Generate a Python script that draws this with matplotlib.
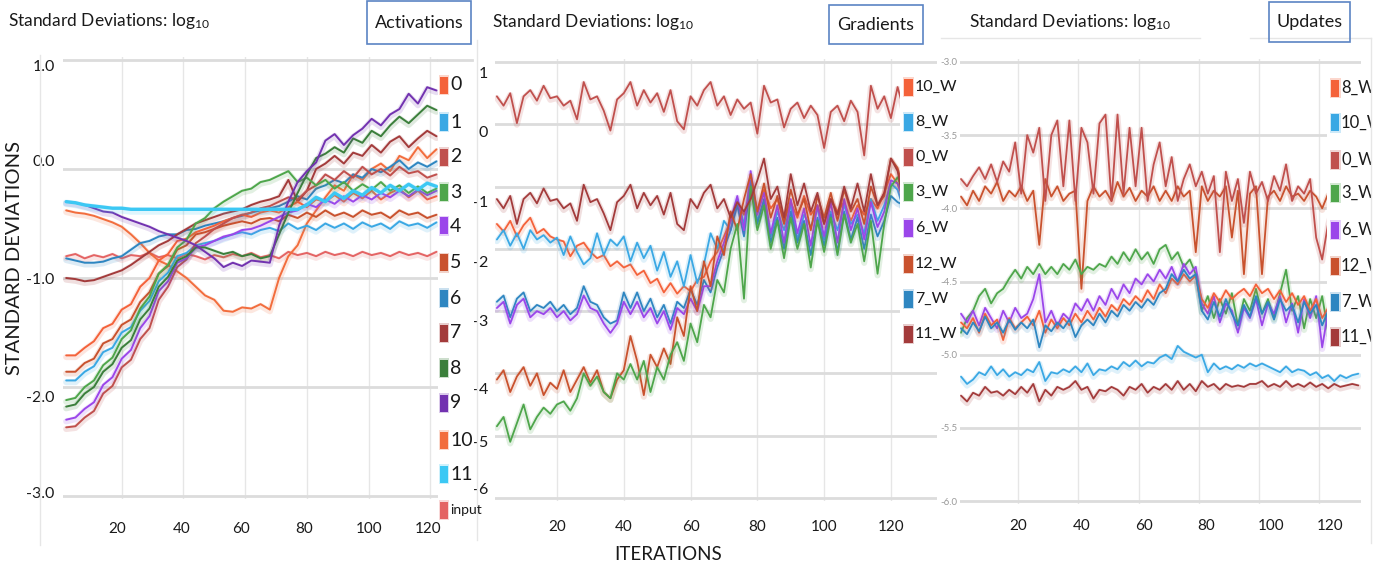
import matplotlib
matplotlib.use("Agg")
import matplotlib.pyplot as plt
import matplotlib.patheffects as pe
import matplotlib.transforms as mtransforms
from matplotlib.patches import Rectangle
from matplotlib.lines import Line2D

plt.rcParams['font.family'] = ['Lato', 'DejaVu Sans']
plt.rcParams['mathtext.fontset'] = 'custom'
plt.rcParams['mathtext.rm'] = 'Lato'
plt.rcParams['mathtext.it'] = 'Lato:italic'
plt.rcParams['mathtext.bf'] = 'Lato:bold'

# ---------------- data : Activations ----------------
act_iters = list(range(2, 123, 3))
act_labels = ['0', '1', '2', '3', '4', '5', '6', '7', '8', '9', '10', '11', 'input']
act_0 = [-1.71,-1.71,-1.64,-1.58,-1.46,-1.42,-1.29,-1.24,-1.08,-1.00,-0.84,-0.78,-0.66,-0.64,-0.58,-0.55,-0.52,-0.48,-0.45,-0.42,-0.44,-0.40,-0.38,-0.40,-0.35,-0.30,-0.35,-0.28,-0.30,-0.24,-0.30,-0.22,-0.27,-0.20,-0.28,-0.22,-0.18,-0.26,-0.20,-0.28,-0.25]
act_1 = [-1.94,-1.94,-1.86,-1.81,-1.68,-1.64,-1.50,-1.45,-1.30,-1.21,-1.03,-0.95,-0.80,-0.77,-0.70,-0.68,-0.66,-0.63,-0.60,-0.58,-0.60,-0.56,-0.54,-0.57,-0.50,-0.55,-0.52,-0.56,-0.50,-0.54,-0.50,-0.55,-0.49,-0.53,-0.50,-0.55,-0.48,-0.52,-0.50,-0.54,-0.49]
act_2 = [-2.37,-2.36,-2.28,-2.22,-2.06,-1.99,-1.82,-1.75,-1.56,-1.46,-1.20,-1.08,-0.90,-0.83,-0.68,-0.62,-0.55,-0.50,-0.45,-0.42,-0.40,-0.36,-0.34,-0.30,-0.26,-0.28,-0.20,-0.15,-0.05,-0.10,-0.02,-0.08,0.02,-0.05,0.00,-0.06,0.02,-0.04,-0.02,-0.08,-0.05]
act_3 = [-2.12,-2.10,-2.00,-1.94,-1.80,-1.73,-1.56,-1.48,-1.28,-1.17,-0.96,-0.88,-0.72,-0.65,-0.50,-0.45,-0.36,-0.30,-0.25,-0.20,-0.18,-0.12,-0.10,-0.06,-0.02,-0.12,-0.08,-0.15,-0.10,-0.18,-0.12,-0.20,-0.14,-0.19,-0.12,-0.20,-0.15,-0.22,-0.16,-0.22,-0.18]
act_4 = [-2.30,-2.28,-2.20,-2.14,-1.98,-1.91,-1.74,-1.66,-1.46,-1.35,-1.12,-1.03,-0.86,-0.82,-0.72,-0.70,-0.66,-0.62,-0.60,-0.56,-0.55,-0.52,-0.48,-0.44,-0.40,-0.38,-0.32,-0.35,-0.28,-0.32,-0.25,-0.30,-0.24,-0.28,-0.22,-0.26,-0.20,-0.25,-0.19,-0.24,-0.20]
act_5 = [-1.86,-1.86,-1.78,-1.74,-1.60,-1.56,-1.43,-1.38,-1.22,-1.13,-0.96,-0.89,-0.74,-0.70,-0.60,-0.58,-0.55,-0.52,-0.50,-0.48,-0.50,-0.46,-0.45,-0.48,-0.42,-0.45,-0.40,-0.44,-0.38,-0.43,-0.40,-0.44,-0.38,-0.42,-0.40,-0.45,-0.38,-0.42,-0.40,-0.45,-0.42]
act_6 = [-0.82,-0.84,-0.86,-0.86,-0.85,-0.82,-0.80,-0.74,-0.68,-0.66,-0.62,-0.60,-0.60,-0.56,-0.55,-0.52,-0.50,-0.48,-0.45,-0.43,-0.40,-0.38,-0.36,-0.34,-0.30,-0.25,-0.28,-0.18,-0.15,-0.10,-0.13,-0.05,-0.08,0.00,-0.03,0.02,0.08,0.00,0.06,0.02,0.07]
act_7 = [-1.00,-1.01,-1.03,-1.02,-0.99,-0.96,-0.93,-0.88,-0.82,-0.76,-0.70,-0.66,-0.60,-0.55,-0.50,-0.47,-0.44,-0.41,-0.39,-0.37,-0.33,-0.30,-0.28,-0.25,-0.10,-0.30,-0.20,0.00,0.05,0.12,0.05,0.15,0.12,0.22,0.15,0.25,0.30,0.20,0.28,0.35,0.30]
act_8 = [-2.18,-2.16,-2.06,-2.00,-1.86,-1.79,-1.64,-1.57,-1.38,-1.28,-1.08,-0.99,-0.84,-0.80,-0.72,-0.72,-0.75,-0.78,-0.76,-0.80,-0.78,-0.82,-0.80,-0.60,-0.40,-0.22,-0.05,0.10,0.14,0.20,0.15,0.28,0.24,0.35,0.30,0.40,0.48,0.42,0.50,0.58,0.54]
act_9 = [-0.30,-0.31,-0.33,-0.36,-0.39,-0.40,-0.44,-0.47,-0.50,-0.53,-0.57,-0.60,-0.63,-0.66,-0.70,-0.76,-0.82,-0.90,-0.86,-0.89,-0.84,-0.85,-0.86,-0.52,-0.30,-0.12,-0.02,0.06,0.26,0.32,0.22,0.31,0.37,0.46,0.40,0.50,0.55,0.69,0.60,0.75,0.72]
act_10 = [-0.38,-0.40,-0.41,-0.43,-0.46,-0.49,-0.53,-0.60,-0.68,-0.77,-0.84,-0.88,-0.94,-1.00,-1.08,-1.16,-1.20,-1.30,-1.31,-1.27,-1.28,-1.24,-1.29,-1.00,-0.80,-0.70,-0.50,-0.38,-0.26,-0.15,-0.20,-0.05,-0.10,0.00,0.05,-0.02,0.12,0.08,0.20,0.10,0.18]
act_11 = [-0.30,-0.31,-0.33,-0.34,-0.35,-0.36,-0.36,-0.37,-0.37,-0.37,-0.37,-0.37,-0.37,-0.37,-0.37,-0.37,-0.37,-0.37,-0.37,-0.37,-0.37,-0.37,-0.37,-0.37,-0.37,-0.37,-0.33,-0.26,-0.30,-0.22,-0.27,-0.20,-0.24,-0.17,-0.22,-0.15,-0.20,-0.14,-0.19,-0.13,-0.16]
act_input = [-0.80,-0.78,-0.82,-0.79,-0.81,-0.78,-0.82,-0.79,-0.80,-0.77,-0.81,-0.79,-0.82,-0.78,-0.80,-0.83,-0.79,-0.81,-0.78,-0.80,-0.77,-0.81,-0.79,-0.82,-0.76,-0.79,-0.77,-0.80,-0.76,-0.79,-0.77,-0.80,-0.76,-0.79,-0.77,-0.80,-0.76,-0.79,-0.77,-0.80,-0.76]

# ---------------- data : Gradients ----------------
grad_iters = list(range(2, 125, 2))
grad_labels = ['10_W', '8_W', '0_W', '3_W', '6_W', '12_W', '7_W', '11_W']
grad_0W = [0.45,0.30,0.50,0.02,0.45,0.55,0.38,0.62,0.42,0.45,
           0.30,0.38,0.08,0.68,0.40,0.45,0.22,-0.10,0.40,0.50,
           0.68,0.30,0.55,0.35,0.50,0.20,0.55,0.05,-0.08,0.45,
           0.30,0.55,0.68,0.30,0.45,0.15,0.40,0.25,0.35,-0.15,
           0.62,0.35,0.40,-0.05,0.25,0.35,0.10,0.30,0.15,-0.38,
           0.20,0.30,0.05,0.38,0.20,-0.50,0.62,0.25,0.45,0.10,
           0.60,0.20]
grad_11W = [-1.20,-1.35,-1.15,-1.60,-1.20,-1.10,-1.27,-1.03,-1.23,-1.20,
            -1.35,-1.27,-1.55,-0.97,-1.25,-1.20,-1.43,-1.70,-1.25,-1.15,
            -0.97,-1.35,-1.10,-1.30,-1.15,-1.45,-1.10,-1.60,-1.70,-1.20,
            -1.35,-1.10,-0.97,-1.35,-1.20,-1.50,-1.25,-1.40,-1.20,-0.90,
            -0.55,-1.20,-1.00,-1.50,-0.80,-1.30,-0.95,-1.40,-1.10,-1.60,
            -1.20,-1.45,-1.00,-1.35,-0.95,-1.40,-0.80,-1.30,-1.10,-0.55,
            -0.75,-1.30]
grad_10W = [-1.60,-1.72,-1.55,-1.80,-1.62,-1.50,-1.75,-1.68,-1.80,-1.85,
            -1.88,-2.12,-1.95,-1.90,-2.05,-2.15,-2.10,-2.28,-2.20,-2.30,
            -2.25,-2.42,-2.35,-2.55,-2.48,-2.70,-2.55,-2.72,-2.60,-2.68,
            -2.50,-2.45,-2.20,-2.05,-1.80,-1.55,-1.30,-1.45,-1.10,-1.40,
            -1.05,-1.35,-1.20,-1.55,-1.25,-1.50,-1.15,-1.45,-1.30,-1.60,
            -1.20,-1.40,-1.25,-1.55,-1.30,-1.45,-1.20,-1.35,-1.10,-0.80,
            -0.95,-1.25]
grad_8W = [-1.85,-1.70,-1.95,-1.75,-2.00,-1.70,-1.85,-1.78,-1.90,-1.82,
           -2.10,-1.80,-2.05,-2.25,-2.15,-1.75,-2.10,-1.85,-1.95,-1.80,
           -2.20,-1.90,-2.15,-1.95,-2.35,-2.05,-2.45,-2.20,-2.60,-2.10,
           -2.55,-2.25,-1.75,-2.00,-1.55,-1.70,-1.20,-1.60,-1.00,-1.55,
           -1.25,-1.80,-1.40,-1.70,-1.30,-1.85,-1.45,-1.65,-1.35,-1.85,
           -1.40,-1.70,-1.30,-1.60,-1.45,-1.75,-1.20,-1.55,-1.30,-0.95,
           -1.05,-1.40]
grad_7W = [-2.85,-2.75,-3.10,-2.80,-2.70,-3.00,-2.90,-2.95,-2.85,-3.00,
           -2.90,-3.05,-2.95,-2.60,-2.85,-2.90,-3.10,-3.20,-3.15,-2.70,
           -2.95,-2.70,-3.00,-2.80,-3.10,-2.90,-3.20,-2.85,-2.95,-2.65,
           -2.90,-2.50,-2.70,-2.30,-2.00,-1.70,-1.30,-1.80,-0.90,-1.60,
           -1.20,-1.90,-1.50,-2.00,-1.40,-1.90,-1.55,-2.10,-1.50,-1.95,
           -1.45,-2.05,-1.40,-1.85,-1.50,-2.00,-1.45,-1.80,-1.55,-1.15,
           -1.25,-1.30]
grad_6W = [-2.95,-2.85,-3.20,-2.90,-2.80,-3.10,-3.00,-3.05,-2.95,-3.10,
           -3.00,-3.15,-3.05,-2.75,-2.95,-3.00,-3.20,-3.35,-3.20,-2.85,
           -3.05,-2.85,-3.10,-2.95,-3.20,-3.00,-3.30,-2.95,-3.05,-2.80,
           -3.00,-2.60,-2.60,-2.20,-1.90,-1.55,-1.15,-1.70,-0.75,-1.45,
           -1.10,-1.75,-1.30,-1.90,-1.20,-1.75,-1.35,-1.95,-1.30,-1.80,
           -1.25,-1.90,-1.20,-1.70,-1.35,-1.85,-1.25,-1.65,-1.40,-0.90,
           -0.95,-1.20]
grad_12W = [-4.10,-3.95,-4.30,-4.05,-3.90,-4.20,-4.00,-4.35,-4.15,-4.25,
            -3.95,-4.30,-4.10,-3.90,-4.15,-3.95,-4.30,-4.40,-4.10,-3.95,
            -3.40,-3.80,-4.35,-3.70,-3.90,-3.60,-3.85,-3.10,-3.40,-2.60,
            -3.00,-2.20,-2.60,-1.80,-2.10,-1.40,-1.70,-1.20,-0.80,-1.40,
            -0.95,-1.50,-1.15,-1.60,-1.05,-1.45,-1.20,-1.70,-1.15,-1.50,
            -1.10,-1.55,-1.05,-1.40,-1.20,-1.60,-1.00,-1.30,-1.15,-0.55,
            -0.70,-1.10]
grad_3W = [-4.85,-4.70,-5.10,-4.80,-4.50,-4.90,-4.70,-4.55,-4.65,-4.50,
           -4.45,-4.60,-4.40,-4.00,-4.20,-4.05,-4.30,-4.40,-4.00,-4.10,
           -3.85,-4.10,-3.80,-4.30,-3.90,-4.10,-3.70,-3.50,-3.80,-3.20,
           -3.50,-2.90,-3.10,-2.50,-2.70,-2.00,-1.60,-2.80,-1.00,-1.70,
           -1.30,-2.00,-1.55,-2.15,-1.50,-2.00,-1.60,-2.30,-1.55,-2.05,
           -1.50,-2.10,-1.45,-1.90,-1.60,-2.20,-1.55,-2.40,-1.60,-1.00,
           -0.85,-1.15]

# ---------------- data : Updates ----------------
upd_iters = list(range(1, 134, 2))
upd_labels = ['8_W', '10_W', '0_W', '3_W', '6_W', '12_W', '7_W', '11_W']
upd_0W = [-3.80,-3.85,-3.78,-3.72,-3.80,-3.70,-3.82,-3.68,-3.75,-3.55,
          -3.90,-3.50,-3.62,-3.45,-3.95,-3.50,-3.40,-3.85,-3.40,-3.95,
          -3.45,-3.55,-3.90,-3.42,-3.36,-3.95,-3.36,-3.90,-3.45,-3.85,
          -3.45,-3.95,-3.70,-3.55,-3.85,-3.65,-3.95,-3.80,-3.70,-3.85,
          -3.75,-3.90,-3.78,-4.30,-3.75,-3.95,-3.80,-4.10,-3.75,-3.90,
          -3.82,-3.95,-3.78,-3.88,-3.70,-3.95,-3.85,-3.90,-3.80,-4.20,
          -4.35,-4.10,-3.95,-3.85,-3.80,-3.90,-4.00]
upd_12W = [-3.92,-3.98,-3.88,-3.95,-3.85,-3.90,-3.82,-3.95,-3.88,-3.92,
           -3.85,-3.95,-3.88,-4.25,-3.80,-3.92,-3.85,-3.95,-3.90,-3.88,
           -4.55,-3.95,-3.85,-3.92,-3.88,-3.95,-3.82,-3.92,-3.86,-3.95,
           -3.88,-3.92,-3.85,-3.95,-3.88,-3.95,-3.85,-3.92,-3.88,-4.30,
           -3.85,-3.95,-3.88,-3.92,-3.85,-4.20,-3.88,-4.45,-3.90,-3.85,
           -4.45,-3.92,-3.88,-3.95,-3.85,-3.92,-3.90,-3.95,-3.88,-3.92,
           -4.00,-3.90,-3.95,-3.88,-3.92,-3.90,-3.95]
upd_3W = [-4.85,-4.75,-4.70,-4.60,-4.55,-4.65,-4.58,-4.55,-4.48,-4.42,
          -4.48,-4.40,-4.45,-4.38,-4.45,-4.40,-4.45,-4.38,-4.42,-4.35,
          -4.45,-4.40,-4.42,-4.38,-4.40,-4.33,-4.38,-4.30,-4.36,-4.28,
          -4.35,-4.30,-4.38,-4.28,-4.25,-4.35,-4.30,-4.40,-4.35,-4.45,
          -4.70,-4.60,-4.75,-4.62,-4.72,-4.58,-4.80,-4.62,-4.70,-4.55,
          -4.72,-4.62,-4.75,-4.58,-4.42,-4.70,-4.60,-4.82,-4.62,-4.75,
          -4.60,-4.85,-4.65,-4.72,-4.60,-4.75,-4.70]
upd_6W = [-4.72,-4.78,-4.70,-4.80,-4.68,-4.75,-4.82,-4.70,-4.78,-4.68,
          -4.75,-4.72,-4.62,-4.45,-4.78,-4.70,-4.80,-4.72,-4.76,-4.65,
          -4.70,-4.62,-4.70,-4.60,-4.66,-4.55,-4.62,-4.52,-4.58,-4.48,
          -4.52,-4.45,-4.50,-4.42,-4.48,-4.40,-4.50,-4.38,-4.45,-4.40,
          -4.65,-4.72,-4.60,-4.78,-4.65,-4.70,-4.85,-4.68,-4.75,-4.62,
          -4.80,-4.65,-4.72,-4.60,-4.78,-4.65,-4.85,-4.62,-4.75,-4.60,
          -4.95,-4.70,-4.80,-4.65,-4.75,-4.70,-4.80]
upd_8W = [-4.78,-4.82,-4.75,-4.85,-4.72,-4.80,-4.76,-4.90,-4.75,-4.82,
          -4.78,-4.74,-4.80,-4.70,-4.85,-4.76,-4.82,-4.75,-4.80,-4.72,
          -4.78,-4.70,-4.76,-4.68,-4.74,-4.66,-4.70,-4.62,-4.66,-4.60,
          -4.64,-4.56,-4.62,-4.52,-4.58,-4.48,-4.52,-4.45,-4.50,-4.46,
          -4.62,-4.68,-4.58,-4.64,-4.56,-4.62,-4.58,-4.55,-4.60,-4.52,
          -4.58,-4.55,-4.62,-4.56,-4.64,-4.58,-4.66,-4.60,-4.70,-4.62,
          -4.75,-4.68,-4.72,-4.66,-4.74,-4.70,-4.72]
upd_7W = [-4.82,-4.86,-4.78,-4.84,-4.74,-4.82,-4.78,-4.85,-4.76,-4.83,
          -4.78,-4.82,-4.76,-4.95,-4.80,-4.84,-4.78,-4.82,-4.76,-4.88,
          -4.80,-4.76,-4.80,-4.72,-4.78,-4.70,-4.74,-4.66,-4.70,-4.64,
          -4.68,-4.62,-4.66,-4.58,-4.55,-4.45,-4.50,-4.42,-4.48,-4.45,
          -4.70,-4.76,-4.64,-4.74,-4.62,-4.72,-4.80,-4.66,-4.74,-4.60,
          -4.72,-4.64,-4.76,-4.62,-4.70,-4.66,-4.78,-4.64,-4.72,-4.66,
          -4.80,-4.70,-4.76,-4.68,-4.74,-4.70,-4.75]
upd_10W = [-5.15,-5.20,-5.17,-5.12,-5.14,-5.08,-5.14,-5.10,-5.15,-5.12,
           -5.14,-5.10,-5.12,-5.05,-5.18,-5.12,-5.13,-5.10,-5.12,-5.08,
           -5.12,-5.06,-5.14,-5.10,-5.11,-5.08,-5.10,-5.05,-5.08,-5.04,
           -5.08,-5.05,-5.06,-5.02,-5.00,-5.03,-4.94,-4.98,-5.00,-5.02,
           -5.00,-5.12,-5.06,-5.10,-5.08,-5.10,-5.07,-5.09,-5.06,-5.08,
           -5.06,-5.08,-5.10,-5.12,-5.08,-5.12,-5.10,-5.11,-5.14,-5.12,
           -5.16,-5.14,-5.18,-5.14,-5.16,-5.14,-5.13]
upd_11W = [-5.28,-5.32,-5.26,-5.28,-5.22,-5.26,-5.25,-5.28,-5.24,-5.27,
           -5.22,-5.26,-5.20,-5.32,-5.24,-5.28,-5.22,-5.24,-5.22,-5.18,
           -5.24,-5.22,-5.30,-5.24,-5.25,-5.22,-5.24,-5.28,-5.22,-5.24,
           -5.20,-5.26,-5.22,-5.24,-5.20,-5.24,-5.18,-5.24,-5.20,-5.25,
           -5.18,-5.22,-5.20,-5.24,-5.20,-5.22,-5.21,-5.22,-5.20,-5.20,
           -5.18,-5.22,-5.20,-5.22,-5.18,-5.22,-5.20,-5.22,-5.19,-5.22,
           -5.20,-5.23,-5.20,-5.22,-5.21,-5.20,-5.21]

# ---------------- tick labels ----------------
x_ticks = [20, 40, 60, 80, 100, 120]
act_yticks = [1.0, 0.0, -1.0, -2.0, -3.0]
act_yticklabels = ['1.0', '0.0', '-1.0', '-2.0', '-3.0']
grad_yticks = [1, 0, -1, -2, -3, -4, -5, -6]
grad_yticklabels = ['1', '0', '-1', '-2', '-3', '-4', '-5', '-6']
upd_yticks = [-3.0, -3.5, -4.0, -4.5, -5.0, -5.5, -6.0]
upd_yticklabels = ['-3.0', '-3.5', '-4.0', '-4.5', '-5.0', '-5.5', '-6.0']

# ---------------- colours ----------------
C_OR = '#f4623a'; C_LB = '#3aa8e4'; C_BR = '#c0504d'; C_GR = '#4ea64b'
C_PU = '#9b46ea'; C_RO = '#c9522e'; C_SB = '#2e86c1'; C_MR = '#a33b3b'
C_DG = '#3b7f3b'; C_VI = '#7232b0'; C_O2 = '#f26d3d'; C_CY = '#3cc8f4'
C_IN = '#e46464'
act_colors = [C_OR, C_LB, C_BR, C_GR, C_PU, C_RO, C_SB, C_MR, C_DG, C_VI, C_O2, C_CY, C_IN]
grad_colors = [C_OR, C_LB, C_BR, C_GR, C_PU, C_RO, C_SB, C_MR]
upd_colors = [C_OR, C_LB, C_BR, C_GR, C_PU, C_RO, C_SB, C_MR]

TXT = '#1a1a1a'
W, H = 1398, 574
fig = plt.figure(figsize=(W / 100, H / 100), dpi=100)


def pax(l, t, r, b):
    return fig.add_axes([l / W, 1 - b / H, (r - l) / W, (b - t) / H])


def style(ax, xlim, ylim, yt, ytl, ysize, ycolor, ypad, xpad):
    ax.set_xlim(*xlim)
    ax.set_ylim(*ylim)
    for s in ax.spines.values():
        s.set_visible(False)
    ax.set_xticks(x_ticks)
    ax.set_xticklabels([str(v) for v in x_ticks])
    ax.set_yticks(yt)
    ax.set_yticklabels(ytl)
    ax.tick_params(length=0)
    ax.tick_params(axis='x', pad=xpad, labelsize=11, labelcolor=TXT)
    ax.tick_params(axis='y', pad=ypad, labelsize=ysize, labelcolor=ycolor)
    ax.set_axisbelow(True)
    ax.grid(axis='y', color='#dcdcdc', lw=2.0)
    ax.grid(axis='x', color='#e6e6e6', lw=1.0)
    ax.patch.set_alpha(0)


def shift_labels(labels, dxs, dys):
    for lbl, dx, dy in zip(labels, dxs, dys):
        off = mtransforms.ScaledTranslation(dx / 100, -dy / 100, fig.dpi_scale_trans)
        lbl.set_transform(lbl.get_transform() + off)


def draw(ax, x, series, colors, lws):
    for y, c, lw in zip(series, colors, lws):
        ax.plot(x, y, color=c, lw=lw, solid_joinstyle='round', solid_capstyle='round',
                path_effects=[pe.Stroke(offset=(0, -1.2), linewidth=lw + 3.0, foreground=c, alpha=0.16),
                              pe.Normal()])


def legend(xsq, ys, labels, colors, fs, sqw=8, sqh=17, small=None):
    for y, lab, c in zip(ys, labels, colors):
        fig.patches.append(Rectangle(((xsq - 1.5) / W, 1 - (y + sqh / 2 + 1.5) / H), (sqw + 3) / W, (sqh + 3) / H,
                                     transform=fig.transFigure, facecolor=c, alpha=0.25, lw=0, zorder=2))
        fig.patches.append(Rectangle((xsq / W, 1 - (y + sqh / 2) / H), sqw / W, sqh / H,
                                     transform=fig.transFigure, facecolor=c, lw=0, zorder=2.5))
        size = fs if (small is None or lab != small) else fs - 4
        fig.text((xsq + sqw + 2) / W, 1 - y / H, lab, fontsize=size, color=TXT,
                 va='center', ha='left', zorder=3)


def fig_line(x0, y0, x1, y1, color='#e6e6e6', lw=1.0):
    fig.add_artist(Line2D([x0 / W, x1 / W], [1 - y0 / H, 1 - y1 / H], transform=fig.transFigure,
                          color=color, lw=lw, zorder=0.5))


def box(l, t, r, b, text, fs=13):
    fig.patches.append(Rectangle((l / W, 1 - b / H), (r - l) / W, (b - t) / H, transform=fig.transFigure,
                                 fill=False, edgecolor='#5b84c4', lw=1.2, zorder=3))
    fig.text((l + r) / 2 / W, 1 - (t + b) / 2 / H, text, fontsize=fs, color=TXT,
             ha='center', va='center', zorder=3)


TITLE = r'Standard Deviations: log$_{10}$'
TITLE_FS = 12.5

# ---------------- panel 1 : Activations ----------------
fig_line(40, 55, 40, 545)
ax1 = pax(63, 56.7, 438, 499.3)
style(ax1, (0.97, 122.5), (-3.03, 1.03), act_yticks, act_yticklabels, 11.5, TXT, 6, 16)
act_series = [act_0, act_1, act_2, act_3, act_4, act_5, act_6, act_7, act_8, act_9, act_10, act_11, act_input]
order = [12, 10, 6, 7, 0, 5, 1, 2, 4, 3, 8, 9, 11]
draw(ax1, act_iters, [act_series[i] for i in order], [act_colors[i] for i in order],
     [2.4 if i == 11 else 1.4 for i in order])
shift_labels(ax1.get_yticklabels(), [0] * 5, [6, -8, 0, 9, -4])
shift_labels(ax1.get_xticklabels(), [-5, -2, -4, -3, 1, -2], [0] * 6)
fig_line(438, 60, 472, 60, color='#dcdcdc', lw=2.0)
legend(440, [85, 122, 157, 192, 226, 263, 298, 333, 368, 403, 440, 474, 510],
       act_labels, act_colors, 14, small='input')
fig.text(8 / W, 1 - 21 / H, TITLE, fontsize=TITLE_FS, color=TXT, ha='left', va='center')
box(367, 1, 471, 44, 'Activations')
fig.text(15 / W, 1 - 258 / H, 'STANDARD DEVIATIONS', fontsize=14.5, color=TXT,
         rotation=90, ha='center', va='center')

# ---------------- panel 2 : Gradients ----------------
fig_line(477, 40, 477, 540)
ax2 = pax(495, 59, 937, 501)
style(ax2, (1.44, 133.8), (-6.05, 1.05), grad_yticks, grad_yticklabels, 11.5, TXT, 5, 14)
grad_series = [grad_10W, grad_8W, grad_0W, grad_3W, grad_6W, grad_12W, grad_7W, grad_11W]
gorder = [0, 1, 6, 4, 5, 3, 7, 2]
draw(ax2, grad_iters, [grad_series[i] for i in gorder], [grad_colors[i] for i in gorder], [1.3] * 8)
shift_labels(ax2.get_yticklabels(), [0] * 8, [10, 7, 15, 13, 9, 15, 6, -9])
fig.patches.append(Rectangle((900 / W, 1 - 352 / H), 40 / W, 285 / H, transform=fig.transFigure,
                             facecolor='white', lw=0, zorder=1.5))
legend(904, [87, 122, 157, 192, 228, 264, 299, 334], grad_labels, grad_colors, 11.5, sqw=9, sqh=17)
fig.text(492 / W, 1 - 22 / H, TITLE, fontsize=TITLE_FS, color=TXT, ha='left', va='center')
box(829, 5, 923, 44, 'Gradients')
fig.text(668 / W, 1 - 555 / H, 'ITERATIONS', fontsize=13.5, color=TXT, ha='center', va='center')

# ---------------- panel 3 : Updates ----------------
ax3 = pax(960, 59, 1361, 504)
style(ax3, (0.66, 133.9), (-6.02, -2.98), upd_yticks, upd_yticklabels, 7, '#9a9a9a', 2, 11)
upd_series = [upd_8W, upd_10W, upd_0W, upd_3W, upd_6W, upd_12W, upd_7W, upd_11W]
uorder = [5, 2, 3, 4, 0, 6, 1, 7]
draw(ax3, upd_iters, [upd_series[i] for i in uorder], [upd_colors[i] for i in uorder], [1.3] * 8)
shift_labels(ax3.get_xticklabels(), [0, 3, 5, 7, 12, 11], [0] * 6)
fig.patches.append(Rectangle((1327 / W, 1 - 352 / H), 71 / W, 282 / H, transform=fig.transFigure,
                             facecolor='white', lw=0, zorder=1.5))
legend(1331, [88, 123, 160, 193, 230, 266, 302, 337], upd_labels, upd_colors, 12, sqw=8, sqh=17)
fig.patches.append(Rectangle((1371 / W, 1 - 360 / H), 27 / W, 300 / H, transform=fig.transFigure,
                             facecolor='white', lw=0, zorder=4))
fig.add_artist(Line2D([1371 / W, 1371 / W], [1 - 38 / H, 1 - 543 / H], transform=fig.transFigure,
                      color='#e6e6e6', lw=1.0, zorder=5))
fig_line(941, 38, 1200, 38)
fig_line(1250, 38, 1371, 38)
fig.text(969 / W, 1 - 22 / H, TITLE, fontsize=TITLE_FS, color=TXT, ha='left', va='center')
box(1269, 2, 1350, 42, 'Updates')

fig.savefig('out.png', dpi=100)
